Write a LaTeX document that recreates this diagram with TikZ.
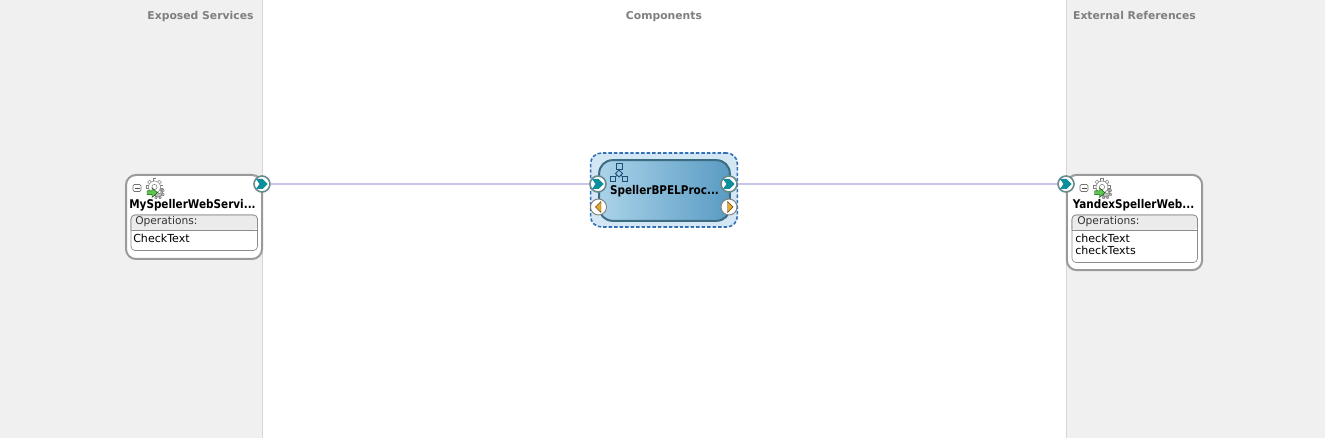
\documentclass[tikz,border=0pt]{standalone}
\usepackage{fontspec}
\setmainfont{DejaVu Sans}
\newfontfamily\titlefont[FakeStretch=0.87]{DejaVu Sans}
\usetikzlibrary{shapes.geometric,calc}
\definecolor{panelgray}{HTML}{F0F0F0}
\definecolor{panelline}{HTML}{D6D6D6}
\definecolor{headtxt}{HTML}{7F7F7F}
\definecolor{boxline}{HTML}{9A9A9A}
\definecolor{wire}{HTML}{C9C5E8}
\definecolor{portteal}{HTML}{0B8F9B}
\definecolor{portline}{HTML}{6A8A8E}
\definecolor{amber}{HTML}{E9A92E}
\definecolor{dashblue}{HTML}{3270B8}
\definecolor{halo}{HTML}{D2E6F4}
\definecolor{bpelL}{HTML}{AAD3E9}
\definecolor{bpelR}{HTML}{5A9BC3}
\definecolor{bpelline}{HTML}{3C6C82}
\definecolor{iconblue}{HTML}{1C4F78}
\definecolor{arrowgreen}{HTML}{62C454}
\tikzset{
  header/.style={text=headtxt,font=\bfseries\fontsize{8.1}{10}\selectfont,inner sep=0pt,anchor=base},
  svcbox/.style={draw=boxline,line width=1.5pt,rounded corners=7.5pt,fill=white,inner sep=0pt},
  title/.style={font=\titlefont\bfseries\fontsize{9}{10}\selectfont,text=black,inner sep=0pt,anchor=base},
  optitle/.style={font=\fontsize{8}{9}\selectfont,text=black!80,inner sep=0pt,anchor=west},
  op/.style={font=\fontsize{8.3}{9}\selectfont,text=black,inner sep=0pt,anchor=west},
  port/.style={circle,draw=portline,line width=1.2pt,fill=white,minimum size=12pt,inner sep=0pt},
  wireline/.style={draw=wire,line width=1.5pt},
  tablebox/.style={draw=black!45,line width=.5pt,rounded corners=3pt,fill=white},
  iconpart/.style={draw=iconblue,line width=.6pt,inner sep=0pt},
}
\newcommand{\chev}[1]{%
  \fill[portteal] ($(#1.center)+(-6,-5)$) -- ($(#1.center)+(.5,-5)$) -- ($(#1.center)+(5.5,0)$) -- ($(#1.center)+(.5,5)$) -- ($(#1.center)+(-6,5)$) -- ($(#1.center)+(-2.5,0)$) -- cycle;}
\newcommand{\gearicon}[2]{%
  \begin{scope}[shift={(#1,#2)}]
    \begin{scope}[shift={(3.5,5.5)}]
      \foreach \a in {22,67,...,337} \draw[black!55,line width=1.9pt] (\a:3) -- (\a:6.6);
      \foreach \a in {22,67,...,337} \draw[black!25,line width=1pt] (\a:3) -- (\a:6.1);
      \fill[black!25,draw=black!55,line width=.4pt] (0,0) circle (4.5);
    \end{scope}
    \foreach \a in {0,45,...,315} \draw[black!50,line width=2.4pt] (\a:4) -- (\a:8.6);
    \foreach \a in {0,45,...,315} \draw[white,line width=1.5pt] (\a:4) -- (\a:8);
    \fill[white,draw=black!50,line width=.4pt] (0,0) circle (6);
    \fill[white,draw=black!50,line width=.4pt] (0,0) circle (2.6);
    \fill[arrowgreen,draw=green!35!black,line width=.35pt] (-7.5,3.8) -- (-2.5,3.8) -- (-2.5,1) -- (3,5.7) -- (-2.5,10.4) -- (-2.5,7.6) -- (-7.5,7.6) -- cycle;
  \end{scope}}
\newcommand{\minusbox}[2]{%
  \draw[black!55,line width=.5pt,rounded corners=1pt,fill=white] (#1-4,#2-3.5) rectangle (#1+4,#2+3.5);
  \draw[black!70,line width=.6pt] (#1-2.5,#2) -- (#1+2.5,#2);}
\begin{document}
\begin{tikzpicture}[x=0.75pt,y=-0.75pt]
\useasboundingbox (0,0) rectangle (1325,438);
\fill[white] (0,0) rectangle (1325,438);
\fill[panelgray] (0,0) rectangle (262.5,438);
\fill[panelgray] (1066.5,0) rectangle (1325,438);
\draw[panelline,line width=.75pt] (262.5,0) -- (262.5,438);
\draw[panelline,line width=.75pt] (1066.5,0) -- (1066.5,438);

\node[header] (h1) at (200.5,20) {Exposed Services};
\node[header] (h2) at (664,20) {Components};
\node[header] (h3) at (1134.5,20) {External References};

% boxes
\node[svcbox,minimum width=102pt,minimum height=63pt] (svc) at (194,217) {};
\node[svcbox,minimum width=101.5pt,minimum height=71.5pt] (ref) at (1134.5,222.5) {};
\node[draw=dashblue,dash pattern=on 2.6pt off 1.5pt,line width=1.2pt,rounded corners=8pt,fill=halo,minimum width=110pt,minimum height=55.5pt,inner sep=0pt] (halo) at (664,190) {};
\node[draw=bpelline,line width=1.5pt,rounded corners=10pt,left color=bpelL,right color=bpelR,minimum width=98pt,minimum height=45.5pt,inner sep=0pt] (bpel) at (664.5,190.5) {};

% ports
\node[port] (p1) at (262,184) {};
\node[port] (p2) at (598,184) {};
\node[port] (p3) at (729,184) {};
\node[port] (p4) at (1066,184) {};
\node[port,draw=black!50,line width=.7pt] (p5) at (598.5,207) {};
\node[port,draw=black!50,line width=.7pt] (p6) at (729,207) {};

\draw[wireline] (p1) -- (p2);
\draw[wireline] (p3) -- (p4);

\chev{p1}\chev{p2}\chev{p3}\chev{p4}
\fill[amber,draw=black!60!amber,line width=.3pt] ($(p5.center)+(-3,0)$) -- ($(p5.center)+(2.5,-5.5)$) -- ($(p5.center)+(2.5,5.5)$) -- cycle;
\fill[amber,draw=black!60!amber,line width=.3pt] ($(p6.center)+(4,0)$) -- ($(p6.center)+(-1.5,-5.5)$) -- ($(p6.center)+(-1.5,5.5)$) -- cycle;

% service contents
\minusbox{137}{188}
\gearicon{154.5}{187}
\node[title] (t1) at (192.5,209) {MySpellerWebServi...};
\draw[tablebox] (131,215) rectangle (257.5,250.5);
\fill[black!8,rounded corners=3pt] (131.3,230) -- (131.3,215.3) -- (257.2,215.3) -- (257.2,230) -- cycle;
\draw[black!45,line width=.5pt,rounded corners=3pt] (131,230) -- (131,215) -- (257.5,215) -- (257.5,230);
\draw[black!45,line width=.5pt] (131,230) -- (257.5,230);
\node[optitle] (o1) at (135,221.5) {Operations:};
\node[op] (c1) at (133,238.5) {CheckText};

\minusbox{1084}{188}
\gearicon{1102}{187}
\node[title] (t2) at (1133.5,209) {YandexSpellerWeb...};
\draw[tablebox] (1072,215) rectangle (1197.5,262.5);
\fill[black!8,rounded corners=3pt] (1072.3,230) -- (1072.3,215.3) -- (1197.2,215.3) -- (1197.2,230) -- cycle;
\draw[black!45,line width=.5pt,rounded corners=3pt] (1072,230) -- (1072,215) -- (1197.5,215) -- (1197.5,230);
\draw[black!45,line width=.5pt] (1072,230) -- (1197.5,230);
\node[optitle] (o2) at (1077,221.5) {Operations:};
\node[op] (c2) at (1075,238.5) {checkText};
\node[op] (c3) at (1075,250) {checkTexts};

% BPEL
\node[title] (t3) at (664.5,195) {SpellerBPELProc...};
\node[iconpart,minimum size=4.5pt] (i1) at (619,166.5) {};
\node[iconpart,minimum size=3.2pt] (i2) at (613,179) {};
\node[iconpart,minimum size=3.2pt] (i3) at (625,179) {};
\node[iconpart,diamond,minimum size=5.5pt] (i4) at (619,173.5) {};
\draw[iconblue,line width=.6pt] (i1) -- (i4);
\draw[iconblue,line width=.6pt] (i4) -- (i2);
\draw[iconblue,line width=.6pt] (i4) -- (i3);
\end{tikzpicture}
\end{document}
